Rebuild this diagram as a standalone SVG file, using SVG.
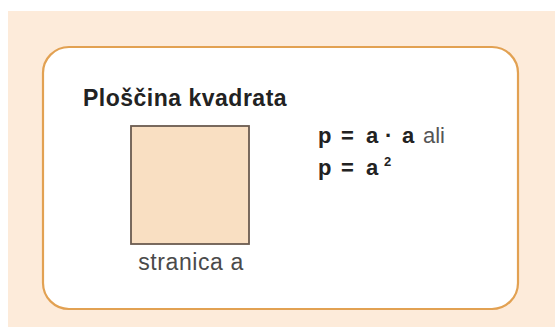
<svg xmlns="http://www.w3.org/2000/svg" width="555" height="327" viewBox="0 0 555 327">
<style>
.t{font-family:"Liberation Sans",Arial,sans-serif;}
.b{font-weight:bold;fill:#222;}
.f{font-size:22px;}
</style>
<rect x="0" y="0" width="555" height="327" fill="#ffffff"/>
<rect x="8" y="11" width="547" height="316" fill="#fdebda"/>
<g id="card">
<rect x="43" y="47" width="475" height="262" rx="26" ry="26" fill="#ffffff" stroke="#e2a152" stroke-width="2.2"/>
</g>
<g id="title">
<text class="t b" x="83" y="106" font-size="23" letter-spacing="0.5">Ploščina kvadrata</text>
</g>
<g id="square">
<rect x="131" y="126" width="118" height="118" fill="#f9dfc2" stroke="#6b5b50" stroke-width="1.8"/>
<text class="t" x="191" y="270" font-size="23" fill="#4a4a4a" text-anchor="middle" letter-spacing="0.6">stranica a</text>
</g>
<g id="formula">
<text class="t b f" y="143"><tspan x="318">p</tspan><tspan x="341">=</tspan><tspan x="366">a</tspan><tspan x="385">·</tspan><tspan x="402">a</tspan><tspan x="423" font-weight="normal" fill="#555">ali</tspan></text>
<text class="t b f" y="175"><tspan x="318">p</tspan><tspan x="341">=</tspan><tspan x="366">a</tspan><tspan x="384" font-size="13" dy="-9">2</tspan></text>
</g>
</svg>
